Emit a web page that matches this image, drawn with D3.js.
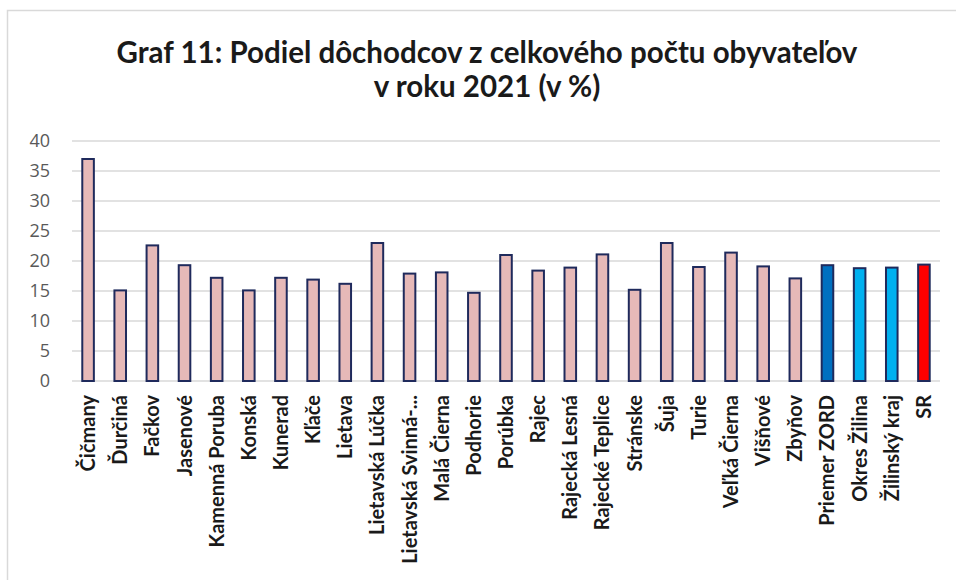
<!DOCTYPE html>
<html>
<head>
<meta charset="utf-8">
<script src="https://cdn.jsdelivr.net/npm/d3@7"></script>
<style>
  body { margin: 0; background: #fff; }
  svg { display: block; }
</style>
</head>
<body>
<svg width="956" height="580"></svg>
<script>
const categories = ["Čičmany", "Ďurčiná", "Fačkov", "Jasenové", "Kamenná Poruba", "Konská", "Kunerad",
    "Kľače", "Lietava", "Lietavská Lúčka", "Lietavská Svinná-...", "Malá Čierna", "Podhorie", "Porúbka",
    "Rajec", "Rajecká Lesná", "Rajecké Teplice", "Stránske", "Šuja", "Turie", "Veľká Čierna", "Višňové",
    "Zbyňov", "Priemer ZORD", "Okres Žilina", "Žilinský kraj", "SR"];
const values = [37.0, 15.1, 22.6, 19.3, 17.2, 15.1, 17.2, 16.9, 16.2, 23.0, 17.9, 18.1, 14.7, 21.0,
    18.4, 18.9, 21.1, 15.2, 23.0, 19.0, 21.4, 19.1, 17.1, 19.3, 18.8, 18.9, 19.4];
const yTicks = [0, 5, 10, 15, 20, 25, 30, 35, 40];
const titleLines = ["Graf 11: Podiel dôchodcov z celkového počtu obyvateľov", "v roku 2021 (v %)"];

const svg = d3.select("svg");

// light frame of the chart area
svg.append("rect")
    .attr("x", 7.5)
    .attr("y", 10.5)
    .attr("width", 1000)
    .attr("height", 1000)
    .attr("fill", "none")
    .attr("stroke", "#d9d9d9")
    .attr("stroke-width", 1.5);

svg.selectAll(".title")
    .data(titleLines)
    .enter()
    .append("text")
    .attr("class", "title")
    .attr("x", 487)
    .attr("y", (d, i) => 63 + i * 34)
    .attr("text-anchor", "middle")
    .attr("font-family", "Lato, 'Open Sans', sans-serif")
    .attr("font-weight", "bold")
    .attr("font-size", "29.5px")
    .attr("fill", "#1a1a1a")
    .text(d => d);

const x = d3.scaleBand()
    .domain(categories)
    .range([72, 940])
    .paddingInner(0.64)
    .paddingOuter(0.32);

const y = d3.scaleLinear()
    .domain([0, 40])
    .range([381, 141]);

const grid = svg.append("g");
grid.selectAll("line")
    .data(yTicks)
    .enter()
    .append("line")
    .attr("x1", 72)
    .attr("x2", 940)
    .attr("y1", d => y(d))
    .attr("y2", d => y(d))
    .attr("stroke", "#d9d9d9")
    .attr("stroke-width", 1.5);

const yAxis = svg.append("g")
    .attr("transform", "translate(50,0)")
    .call(d3.axisLeft(y).tickValues(yTicks).tickSize(0).tickPadding(0));
yAxis.select(".domain").remove();
yAxis.selectAll("text")
    .attr("font-family", "'Open Sans', sans-serif")
    .attr("font-size", "18px")
    .attr("fill", "#595959");

function barColor(name) {
    if (name === "Priemer ZORD") return "#0070c0";
    if (name === "Okres Žilina" || name === "Žilinský kraj") return "#00b0f0";
    if (name === "SR") return "#ff0000";
    return "#e6b9b8";
}

svg.selectAll(".bar")
    .data(categories)
    .enter()
    .append("rect")
    .attr("class", "bar")
    .attr("x", d => x(d))
    .attr("width", x.bandwidth())
    .attr("y", (d, i) => y(values[i]))
    .attr("height", (d, i) => y(0) - y(values[i]))
    .attr("fill", d => barColor(d))
    .attr("stroke", "#1f2a5c")
    .attr("stroke-width", 2);

svg.selectAll(".xlabel")
    .data(categories)
    .enter()
    .append("text")
    .attr("class", "xlabel")
    .attr("transform", d => "translate(" + (x(d) + x.bandwidth() / 2) + ",395) rotate(-90)")
    .attr("dy", "0.35em")
    .attr("text-anchor", "end")
    .attr("font-family", "Lato, 'Open Sans', sans-serif")
    .attr("font-weight", "bold")
    .attr("font-size", "20px")
    .attr("fill", "#1a1a1a")
    .text(d => d);
</script>
</body>
</html>
